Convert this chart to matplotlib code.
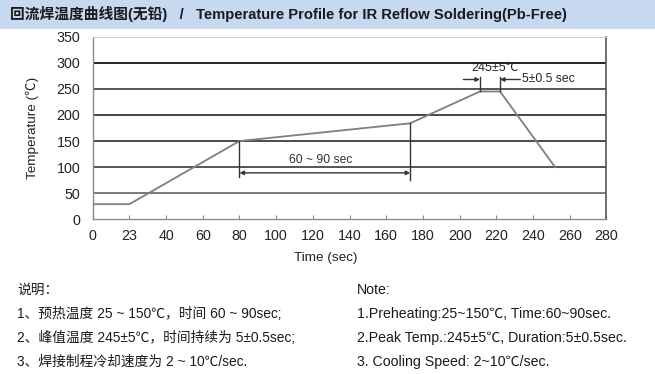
import matplotlib
matplotlib.use("Agg")
import matplotlib.pyplot as plt
from matplotlib.patches import Rectangle

# ---- data ----
time_pts = [0, 20, 80, 173, 211, 222, 252]
temp_pts = [29, 29, 150, 184, 245, 245, 100]
xtick_pos = [0, 20, 40, 60, 80, 100, 120, 140, 160, 180, 200, 220, 240, 260, 280]
xtick_labels = ["0", "23", "40", "60", "80", "100", "120", "140", "160", "180",
                "200", "220", "240", "260", "280"]
ytick_pos = [0, 50, 100, 150, 200, 250, 300, 350]
grid_levels = [50, 100, 150, 200, 250, 300]
grid_colors = ["#7a7a7a", "#555555", "#4a4a4a", "#444444", "#555555", "#222222"]

title_text = "回流焊温度曲线图(无铅)   /   Temperature Profile for IR Reflow Soldering(Pb-Free)"
notes_cn = ["说明：",
            "1、预热温度 25 ~ 150℃，时间 60 ~ 90sec;",
            "2、峰值温度 245±5℃，时间持续为 5±0.5sec;",
            "3、焊接制程冷却速度为 2 ~ 10℃/sec."]
notes_en = ["Note:",
            "1.Preheating:25~150℃, Time:60~90sec.",
            "2.Peak Temp.:245±5℃, Duration:5±0.5sec.",
            "3. Cooling Speed: 2~10℃/sec."]

FAM = ["Liberation Sans", "Noto Sans CJK SC", "DejaVu Sans"]
plt.rcParams['font.family'] = FAM

W, H = 655, 374
fig = plt.figure(figsize=(W / 100, H / 100), dpi=100)

# title bar
fig.patches.append(Rectangle((0, 1 - 29 / H), 1, 29 / H, transform=fig.transFigure,
                             facecolor="#c6d9f1", edgecolor="none", zorder=0))
fig.text(10 / W, 1 - 14 / H, title_text, fontsize=10.6, fontweight="bold",
         color="#1a1a1a", va="center", ha="left", family=FAM)

ax = fig.add_axes([92.7 / W, 1 - 219.3 / H, (606.5 - 92.7) / W, (219.3 - 36.7) / H])
ax.set_xlim(0, 280)
ax.set_ylim(0, 350)

for lvl, c in zip(grid_levels, grid_colors):
    ax.axhline(lvl, color=c, lw=1.4, zorder=1)

ax.plot(time_pts, temp_pts, color="#7f7f7f", lw=1.3, zorder=3)

ax.set_xticks(xtick_pos)
ax.set_xticklabels(xtick_labels)
ax.set_yticks(ytick_pos)
ax.tick_params(axis="x", direction="in", length=3, width=0.8, color="#888888",
               labelsize=10.3, pad=7, labelcolor="#222222")
ax.tick_params(axis="y", length=0, labelsize=10.3, pad=9, labelcolor="#222222")

for s in ["left", "bottom"]:
    ax.spines[s].set_color("#8a8a8a")
    ax.spines[s].set_linewidth(1.0)
ax.spines["right"].set_color("#555555")
ax.spines["right"].set_linewidth(1.2)
ax.spines["top"].set_color("#d0d0d0")
ax.spines["top"].set_linewidth(0.8)

# 60~90 sec annotation
lc = "#333333"
ax.plot([80, 80], [150, 82], color=lc, lw=1.0, zorder=4)
ax.plot([173, 173], [184, 75], color=lc, lw=1.0, zorder=4)
ax.annotate("", xy=(80, 89), xytext=(173, 89),
            arrowprops=dict(arrowstyle="<|-|>", color=lc, lw=1.0,
                            mutation_scale=6, shrinkA=0, shrinkB=0), zorder=4)
ax.text(124, 114, "60 ~ 90 sec", fontsize=8.7, ha="center", va="center", color="#333333")

# peak annotation
ax.plot([211, 211], [245, 273], color=lc, lw=1.0, zorder=4)
ax.plot([222, 222], [245, 273], color=lc, lw=1.0, zorder=4)
ax.annotate("", xy=(211, 268), xytext=(202, 268),
            arrowprops=dict(arrowstyle="-|>", color=lc, lw=1.0,
                            mutation_scale=6, shrinkA=0, shrinkB=0), zorder=4)
ax.annotate("", xy=(222, 268), xytext=(233, 268),
            arrowprops=dict(arrowstyle="-|>", color=lc, lw=1.0,
                            mutation_scale=6, shrinkA=0, shrinkB=0), zorder=4)
ax.text(234, 268, "5±0.5 sec", fontsize=8.7, ha="left", va="center", color="#222222")
ax.text(219, 291, "245±5℃", fontsize=9, ha="center", va="center", color="#222222")

# axis labels
fig.text(32 / W, 1 - 128 / H, "Temperature (℃)", rotation=90, fontsize=9.7,
         ha="center", va="center", color="#222222")
fig.text(326 / W, 1 - 258 / H, "Time (sec)", fontsize=9.7, ha="center", va="center",
         color="#222222")

# notes
ys = [290, 314, 338, 362]
for y, t in zip(ys, notes_cn):
    fig.text(17 / W, 1 - y / H, t, fontsize=9.9, ha="left", va="center",
             color="#1a1a1a", family=FAM)
for y, t in zip(ys, notes_en):
    fig.text(357 / W, 1 - y / H, t, fontsize=10.2, ha="left", va="center",
             color="#1a1a1a", family=FAM)

fig.savefig("out.png", dpi=100)
